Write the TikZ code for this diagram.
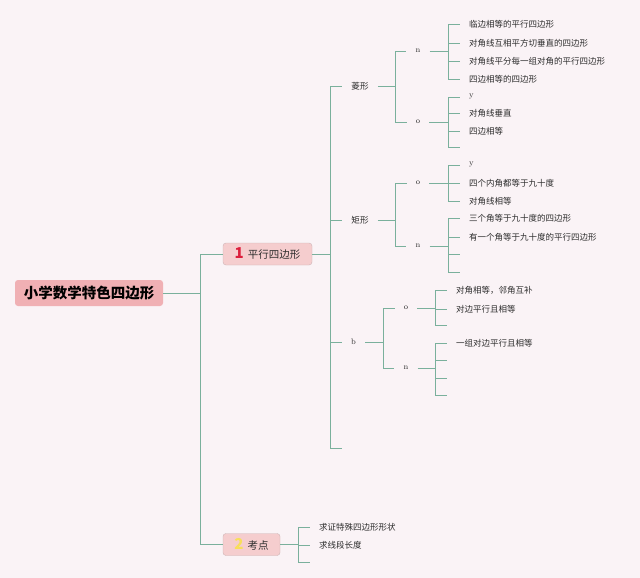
\documentclass[tikz,border=0pt]{standalone}
\usepackage{fontspec}
\newfontfamily\cjk{Noto Sans CJK SC}
\definecolor{mapBg}{RGB}{250,243,246}
\definecolor{mapLine}{RGB}{122,176,156}
\definecolor{rootPink}{RGB}{240,176,180}
\definecolor{topicPink}{RGB}{245,205,206}
\definecolor{topicEdge}{RGB}{205,180,182}
\definecolor{numRed}{RGB}{220,30,60}
\definecolor{numGold}{RGB}{248,222,90}
\definecolor{inkGray}{RGB}{45,45,45}

\begin{document}
\begin{tikzpicture}[x=1pt, y=-1pt,
        root/.style={rectangle, fill=rootPink, rounded corners=3pt, minimum width=148pt, minimum height=26pt, font=\cjk\bfseries\fontsize{14.5}{18}\selectfont, text=black},
        topic/.style={rectangle, draw=topicEdge, fill=topicPink, rounded corners=3pt, minimum height=22pt, inner xsep=4pt, font=\cjk\fontsize{10.5}{12}\selectfont, text=inkGray},
        branch/.style={inner xsep=9pt, inner ysep=1pt, font=\cjk\fontsize{8.6}{11}\selectfont, text=inkGray},
        letter/.style={branch, font=\fontsize{8}{10}\selectfont},
        leaf/.style={anchor=west, inner xsep=9pt, inner ysep=1pt, font=\cjk\fontsize{8.5}{11}\selectfont, text=inkGray},
        leafletter/.style={leaf, font=\fontsize{8}{10}\selectfont},
        link/.style={draw=mapLine, line width=0.8pt}
    ]
        \fill[mapBg] (0,0) rectangle (640,578);

        \node[root] (root) at (89,293) {小学数学特色四边形};
        \node[topic, minimum width=89pt] (para) at (267.5,254) {\textcolor{numRed}{\fontsize{15}{15}\selectfont\bfseries 1}\hspace{4pt}平行四边形};
        \node[topic, minimum width=57pt] (exam) at (251.5,544.5) {\textcolor{numGold}{\fontsize{15}{15}\selectfont\bfseries 2}\hspace{4pt}考点};
        \coordinate (jroot) at (200,293);
        \draw[link] (root.east) -- (jroot);
        \draw[link] (jroot) |- (para.west);
        \draw[link] (jroot) |- (exam.west);

        % parallelogram branch
        \coordinate (jpara) at (330,254);
        \node[branch] (rhombus) at (360,86) {菱形};
        \node[branch] (rect) at (360,220) {矩形};
        \node[letter] (pb) at (353.5,342) {b};
        \coordinate (paraEnd) at (342,448);
        \draw[link] (para.east) -- (jpara);
        \foreach \n in {rhombus,rect,pb} \draw[link] (jpara) |- (\n.west);
        \draw[link] (jpara) |- (paraEnd);

        % rhombus
        \coordinate (jrhombus) at (395,86);
        \node[letter] (rhN) at (418,51) {n};
        \node[letter] (rhO) at (418,122) {o};
        \draw[link] (rhombus.east) -- (jrhombus);
        \foreach \n in {rhN,rhO} \draw[link] (jrhombus) |- (\n.west);

        \coordinate (jrhN) at (448,51);
        \foreach \i/\y/\txt in {1/24/临边相等的平行四边形, 2/43/对角线互相平方切垂直的四边形, 3/61/对角线平分每一组对角的平行四边形, 4/79/四边相等的四边形}
            \node[leaf] (rhN\i) at (460,\y) {\txt};
        \draw[link] (rhN.east) -- (jrhN);
        \foreach \i in {1,...,4} \draw[link] (jrhN) |- (rhN\i.west);

        \coordinate (jrhO) at (448,122);
        \node[leafletter] (rhO1) at (460,97) {y};
        \node[leaf] (rhO2) at (460,113) {对角线垂直};
        \node[leaf] (rhO3) at (460,131) {四边相等};
        \coordinate (rhO4) at (460,147);
        \draw[link] (rhO.east) -- (jrhO);
        \foreach \i in {1,2,3} \draw[link] (jrhO) |- (rhO\i.west);
        \draw[link] (jrhO) |- (rhO4);

        % rectangle
        \coordinate (jrect) at (395,220);
        \node[letter] (reO) at (418,183) {o};
        \node[letter] (reN) at (418,246) {n};
        \draw[link] (rect.east) -- (jrect);
        \foreach \n in {reO,reN} \draw[link] (jrect) |- (\n.west);

        \coordinate (jreO) at (448,183);
        \node[leafletter] (reO1) at (460,165) {y};
        \node[leaf] (reO2) at (460,183) {四个内角都等于九十度};
        \node[leaf] (reO3) at (460,201) {对角线相等};
        \draw[link] (reO.east) -- (jreO);
        \foreach \i in {1,2,3} \draw[link] (jreO) |- (reO\i.west);

        \coordinate (jreN) at (448,246);
        \node[leaf] (reN1) at (460,218) {三个角等于九十度的四边形};
        \node[leaf] (reN2) at (460,237) {有一个角等于九十度的平行四边形};
        \coordinate (reN3) at (460,254);
        \coordinate (reN4) at (460,272);
        \draw[link] (reN.east) -- (jreN);
        \foreach \i in {1,2} \draw[link] (jreN) |- (reN\i.west);
        \foreach \i in {3,4} \draw[link] (jreN) |- (reN\i);

        % b
        \coordinate (jpb) at (383,342);
        \node[letter] (pbO) at (406,308) {o};
        \node[letter] (pbN) at (406,368) {n};
        \draw[link] (pb.east) -- (jpb);
        \foreach \n in {pbO,pbN} \draw[link] (jpb) |- (\n.west);

        \coordinate (jpbO) at (435,308);
        \node[leaf] (pbO1) at (447,290) {对角相等，邻角互补};
        \node[leaf] (pbO2) at (447,309) {对边平行且相等};
        \coordinate (pbO3) at (447,325);
        \draw[link] (pbO.east) -- (jpbO);
        \foreach \i in {1,2} \draw[link] (jpbO) |- (pbO\i.west);
        \draw[link] (jpbO) |- (pbO3);

        \coordinate (jpbN) at (435,368);
        \node[leaf] (pbN1) at (447,343) {一组对边平行且相等};
        \foreach \i/\y in {2/360,3/378,4/395} \coordinate (pbN\i) at (447,\y);
        \draw[link] (pbN.east) -- (jpbN);
        \draw[link] (jpbN) |- (pbN1.west);
        \foreach \i in {2,3,4} \draw[link] (jpbN) |- (pbN\i);

        % exam points
        \coordinate (jexam) at (298,544.5);
        \node[leaf] (exam1) at (310,527) {求证特殊四边形形状};
        \node[leaf] (exam2) at (310,545) {求线段长度};
        \coordinate (exam3) at (310,562);
        \draw[link] (exam.east) -- (jexam);
        \foreach \i in {1,2} \draw[link] (jexam) |- (exam\i.west);
        \draw[link] (jexam) |- (exam3);
    \end{tikzpicture}
\end{document}
